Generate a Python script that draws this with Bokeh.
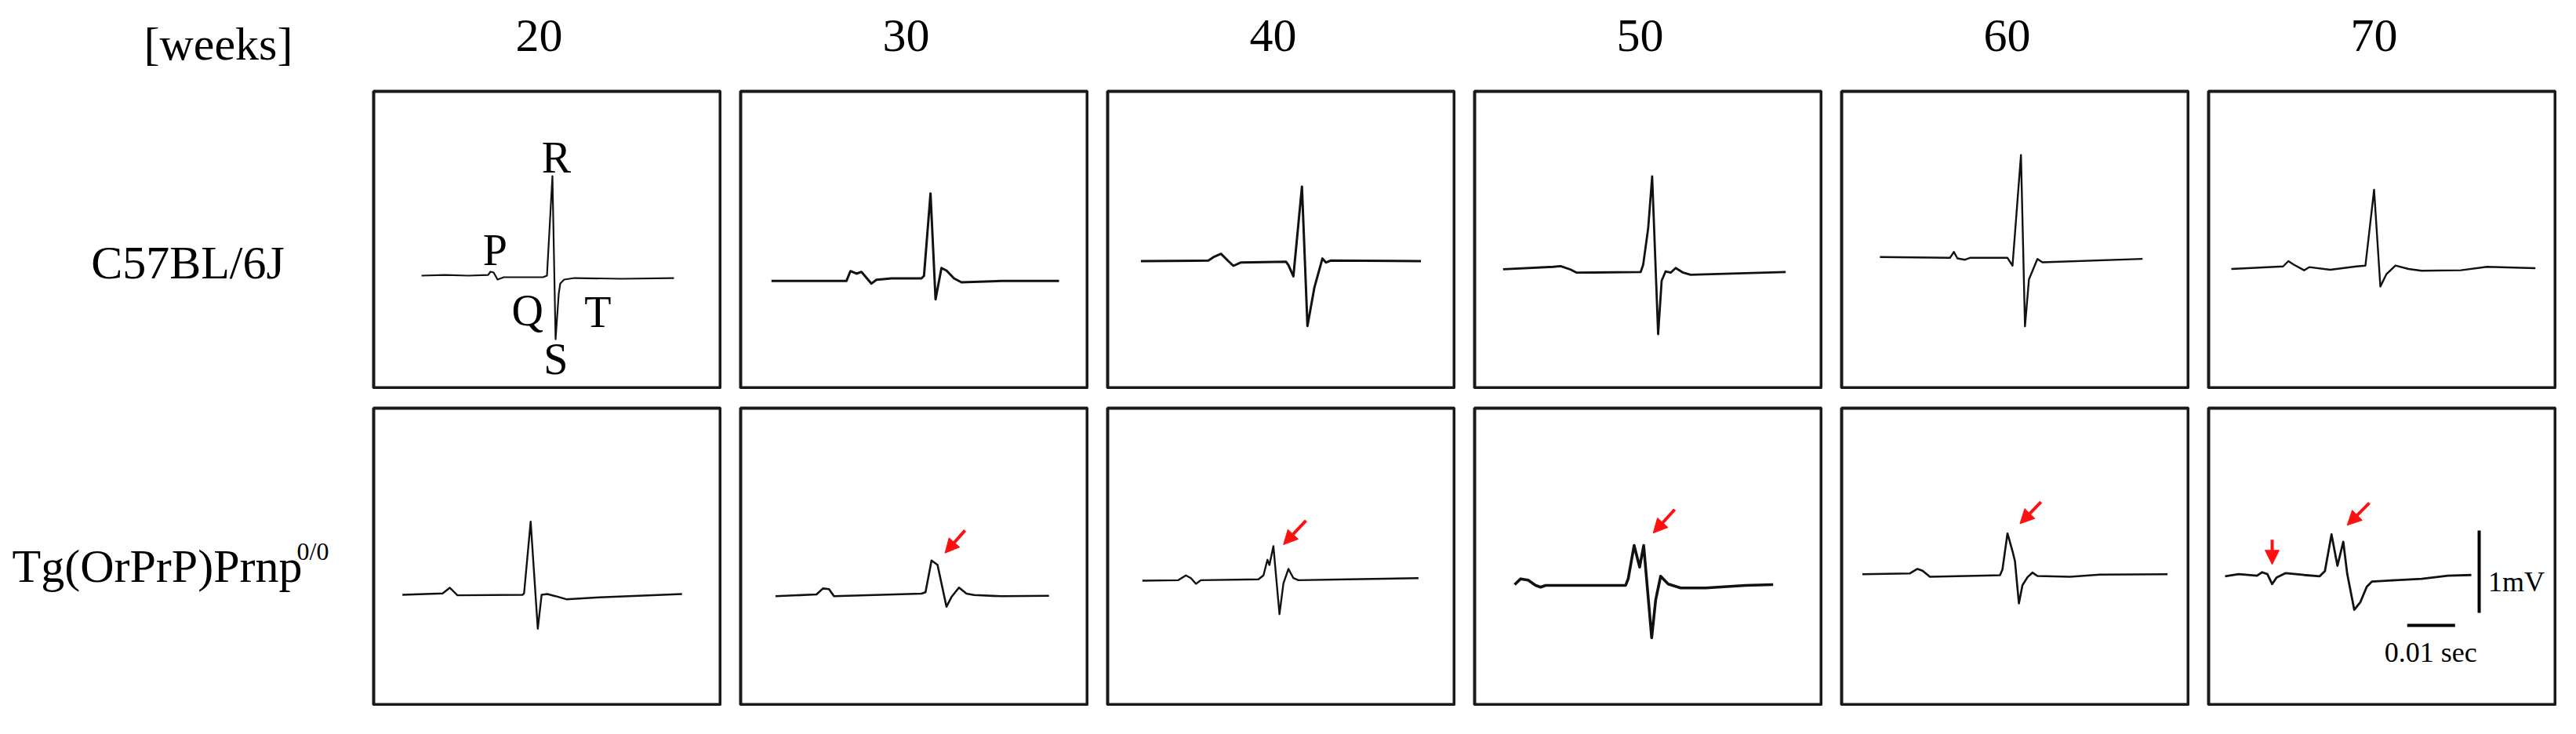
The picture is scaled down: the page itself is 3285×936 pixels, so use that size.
from bokeh.plotting import figure
from bokeh.layouts import column, row
from bokeh.models import Range1d, Arrow, NormalHead, Spacer
from bokeh.core.properties import value
from bokeh.embed import file_html
from bokeh.resources import INLINE

# ---------------- data ----------------
week_labels = ["20", "30", "40", "50", "60", "70"]
strain_labels = ["C57BL/6J", "Tg(OrPrP)Prnp"]
strain_sup = "0/0"
wave_letters = ["P", "Q", "R", "S", "T"]
wave_letter_t = [25.7, 32.5, 38.5, 38.4, 47.2]
wave_letter_v = [-0.13, -0.86, 1.0, -1.45, -0.88]

# time in ms from panel's left edge, voltage in mV (0 = panel middle)
wt20_t = [10.33, 15.25, 20.16, 24.26, 24.75, 25.41, 26.23, 27.54, 35.74, 36.56, 37.70, 38.36, 39.02, 39.34, 40.16, 42.30, 52.13, 63.11]
wt20_v = [-0.438, -0.429, -0.438, -0.429, -0.390, -0.400, -0.486, -0.457, -0.457, -0.438, 0.771, -1.210, -0.657, -0.533, -0.486, -0.467, -0.476, -0.467]
wt30_t = [6.77, 22.44, 23.28, 24.54, 25.59, 27.67, 28.72, 31.85, 38.13, 38.66, 40.02, 41.07, 42.31, 43.36, 44.93, 46.49, 54.87, 66.89]
wt30_v = [-0.503, -0.503, -0.383, -0.414, -0.392, -0.535, -0.488, -0.471, -0.471, -0.440, 0.560, -0.726, -0.345, -0.376, -0.471, -0.519, -0.503, -0.503]
wt40_t = [7.28, 21.39, 22.44, 24.02, 25.57, 26.62, 28.20, 37.61, 38.13, 39.16, 40.95, 42.10, 43.56, 45.23, 45.97, 47.02, 65.84]
wt40_v = [-0.262, -0.255, -0.214, -0.173, -0.262, -0.319, -0.278, -0.269, -0.310, -0.446, 0.643, -1.050, -0.579, -0.230, -0.278, -0.255, -0.262]
wt50_t = [6.28, 16.74, 18.31, 20.39, 21.66, 35.03, 35.56, 36.61, 37.44, 38.69, 39.43, 40.26, 41.31, 42.36, 43.92, 45.49, 65.36]
wt50_v = [-0.360, -0.331, -0.322, -0.364, -0.402, -0.395, -0.307, 0.138, 0.767, -1.148, -0.497, -0.386, -0.402, -0.345, -0.402, -0.427, -0.395]
wt60_t = [8.33, 22.97, 23.80, 24.54, 26.11, 27.15, 35.00, 36.05, 37.82, 38.66, 39.49, 41.26, 42.31, 63.23]
wt60_v = [-0.212, -0.222, -0.150, -0.229, -0.245, -0.222, -0.222, -0.317, 1.026, -1.054, -0.483, -0.235, -0.276, -0.235]
wt70_t = [5.08, 15.90, 17.00, 18.08, 20.28, 21.36, 25.74, 31.20, 33.11, 34.92, 36.23, 37.49, 39.39, 42.13, 44.87, 53.07, 58.52, 68.64]
wt70_v = [-0.357, -0.326, -0.262, -0.303, -0.373, -0.335, -0.367, -0.326, -0.316, 0.605, -0.570, -0.421, -0.316, -0.357, -0.379, -0.373, -0.331, -0.348]

tg20_t = [6.34, 14.74, 16.25, 17.85, 31.43, 31.77, 33.15, 34.64, 35.44, 36.61, 38.33, 40.62, 47.52, 64.79]
tg20_v = [-0.467, -0.450, -0.381, -0.473, -0.467, -0.450, 0.422, -0.879, -0.467, -0.457, -0.483, -0.521, -0.498, -0.457]
tg30_t = [7.61, 16.18, 17.54, 18.79, 19.84, 38.13, 38.97, 40.23, 41.48, 43.36, 44.41, 45.97, 47.54, 49.11, 54.87, 64.79]
tg30_v = [-0.484, -0.462, -0.389, -0.398, -0.484, -0.452, -0.436, -0.050, -0.103, -0.611, -0.493, -0.379, -0.452, -0.469, -0.484, -0.478]
tg40_t = [7.59, 15.11, 16.69, 17.74, 18.79, 19.82, 31.85, 32.90, 33.74, 34.15, 34.98, 36.25, 37.08, 38.13, 39.16, 40.21, 50.67, 65.31]
tg40_v = [-0.295, -0.289, -0.231, -0.264, -0.333, -0.289, -0.279, -0.231, -0.041, -0.105, 0.124, -0.702, -0.327, -0.152, -0.264, -0.289, -0.279, -0.264]
tg50_t = [8.69, 9.95, 11.51, 13.08, 14.13, 15.18, 31.90, 32.43, 33.67, 34.82, 35.67, 37.34, 38.18, 39.21, 40.79, 43.39, 48.62, 57.00, 62.74]
tg50_v = [-0.343, -0.273, -0.289, -0.352, -0.374, -0.352, -0.352, -0.273, 0.133, -0.130, 0.133, -0.988, -0.527, -0.241, -0.336, -0.384, -0.384, -0.352, -0.343]
tg60_t = [4.67, 14.61, 16.18, 17.23, 18.79, 33.43, 33.95, 35.00, 36.05, 36.56, 37.39, 38.13, 39.18, 40.21, 41.26, 48.07, 54.34, 68.46]
tg60_v = [-0.216, -0.207, -0.152, -0.174, -0.248, -0.229, -0.159, 0.279, 0.064, -0.057, -0.571, -0.350, -0.254, -0.197, -0.238, -0.248, -0.222, -0.216]
tg70_t = [3.77, 6.61, 10.44, 11.52, 12.62, 13.61, 14.54, 16.44, 20.28, 23.56, 24.64, 26.02, 27.26, 28.48, 29.30, 30.77, 32.02, 33.39, 34.48, 39.39, 44.87, 50.33, 55.25]
tg70_v = [-0.241, -0.216, -0.235, -0.193, -0.216, -0.336, -0.257, -0.203, -0.226, -0.241, -0.178, 0.267, -0.114, 0.178, -0.210, -0.648, -0.559, -0.369, -0.305, -0.289, -0.273, -0.235, -0.226]

# red arrows: (tail_t, tail_v, tip_t, tip_v) for each Tg panel
tg_arrows = [
    [],
    [(47.23, 0.316, 43.05, 0.040)],
    [(41.79, 0.435, 37.08, 0.143)],
    [(42.15, 0.569, 37.66, 0.283)],
    [(42.00, 0.660, 37.61, 0.397)],
    [(33.93, 0.648, 29.30, 0.378), (13.61, 0.203, 13.61, -0.098)],
]

# scale bar (last panel)
bar_mv = 1.0
bar_ms = 10.0
bar_v_t, bar_v_top = 56.89, 0.314
bar_h_t0, bar_h_v = 41.85, -0.838
bar_mv_label = "1mV"
bar_ms_label = "0.01 sec"

# ---------------- layout / style ----------------
PX_MS = 6.1     # pixels per ms
PX_MV = 105.0   # pixels per mV
PW, PH = 446, 382
GAP = 22
LABEL_W = 474
HEADER_H = 114
FONT = value("Liberation Serif")

wt_traces = [(wt20_t, wt20_v), (wt30_t, wt30_v), (wt40_t, wt40_v),
             (wt50_t, wt50_v), (wt60_t, wt60_v), (wt70_t, wt70_v)]
tg_traces = [(tg20_t, tg20_v), (tg30_t, tg30_v), (tg40_t, tg40_v),
             (tg50_t, tg50_v), (tg60_t, tg60_v), (tg70_t, tg70_v)]
wt_widths = [2.2, 3.0, 3.0, 2.8, 2.4, 2.4]
tg_widths = [2.4, 2.6, 2.4, 3.6, 2.6, 2.8]


def blank(w, h, xr, yr):
    p = figure(width=w, height=h, x_range=xr, y_range=yr, output_backend="svg",
               toolbar_location=None, min_border=0)
    p.axis.visible = False
    p.grid.visible = False
    p.outline_line_color = None
    p.background_fill_color = "white"
    p.border_fill_color = "white"
    return p


def panel(t, v, lw):
    b = 2
    p = figure(width=PW, height=PH, output_backend="svg", toolbar_location=None,
               x_range=Range1d(b / PX_MS, (PW - b) / PX_MS),
               y_range=Range1d(-(PH / 2 - b) / PX_MV, (PH / 2 - b) / PX_MV),
               min_border=b)
    p.axis.visible = False
    p.grid.visible = False
    p.outline_line_color = "#1a1a1a"
    p.outline_line_width = 4
    p.background_fill_color = "white"
    p.border_fill_color = "white"
    p.line(t, v, line_color="#111111", line_width=lw, line_join="round")
    return p


TOTAL_W = LABEL_W + 6 * PW + 5 * GAP

# header
header = blank(TOTAL_W, HEADER_H, Range1d(0, TOTAL_W), Range1d(HEADER_H, 0))
header.text(x=[278], y=[55], text=["[weeks]"], text_font=FONT,
            text_font_size=value("60px"), text_align="center",
            text_baseline="alphabetic", text_color="black")
centers = [LABEL_W + PW / 2 + i * (PW + GAP) - 10 for i in range(6)]
header.text(x=centers, y=[45] * 6, text=week_labels, text_font=FONT,
            text_font_size=value("60px"), text_align="center",
            text_baseline="alphabetic", text_color="black")

# row labels
lab1 = blank(LABEL_W, PH, Range1d(0, LABEL_W), Range1d(PH, 0))
lab1.text(x=[239], y=[221], text=[strain_labels[0]], text_font=FONT,
          text_font_size=value("60px"), text_align="center",
          text_baseline="alphabetic", text_color="black")
lab2 = blank(LABEL_W, PH, Range1d(0, LABEL_W), Range1d(PH, 0))
lab2.text(x=[15], y=[204], text=[strain_labels[1]], text_font=FONT,
          text_font_size=value("60px"), text_align="left",
          text_baseline="alphabetic", text_color="black")
lab2.text(x=[378], y=[184], text=[strain_sup], text_font=FONT,
          text_font_size=value("32px"), text_align="left",
          text_baseline="alphabetic", text_color="black")

row1 = [lab1]
for i, ((t, v), lw) in enumerate(zip(wt_traces, wt_widths)):
    p = panel(t, v, lw)
    if i == 0:
        p.text(x=wave_letter_t, y=wave_letter_v, text=wave_letters, text_font=FONT,
               text_font_size=value("56px"), text_align="center",
               text_baseline="alphabetic", text_color="black")
    if i > 0:
        row1.append(Spacer(width=GAP, height=PH))
    row1.append(p)

row2 = [lab2]
for i, ((t, v), lw) in enumerate(zip(tg_traces, tg_widths)):
    p = panel(t, v, lw)
    for (t0, v0, t1, v1) in tg_arrows[i]:
        p.add_layout(Arrow(end=NormalHead(size=18, fill_color="#ff1010",
                                          line_color="#ff1010"),
                           x_start=t0, y_start=v0, x_end=t1, y_end=v1,
                           line_color="#ff1010", line_width=4))
    if i == 5:
        p.segment(x0=[bar_v_t], y0=[bar_v_top], x1=[bar_v_t], y1=[bar_v_top - bar_mv],
                  line_color="black", line_width=4)
        p.segment(x0=[bar_h_t0], y0=[bar_h_v], x1=[bar_h_t0 + bar_ms], y1=[bar_h_v],
                  line_color="black", line_width=4)
        p.text(x=[bar_v_t + 1.9], y=[bar_v_top - bar_mv * 0.62], text=[bar_mv_label],
               text_font=FONT, text_font_size=value("36px"), text_align="left",
               text_baseline="alphabetic", text_color="black")
        p.text(x=[bar_h_t0 + bar_ms / 2 - 0.1], y=[bar_h_v - 0.33], text=[bar_ms_label],
               text_font=FONT, text_font_size=value("36px"), text_align="center",
               text_baseline="alphabetic", text_color="black")
    if i > 0:
        row2.append(Spacer(width=GAP, height=PH))
    row2.append(p)

layout = column(header, row(*row1), Spacer(height=GAP), row(*row2))

open("out.html", "w").write(file_html(layout, INLINE))
